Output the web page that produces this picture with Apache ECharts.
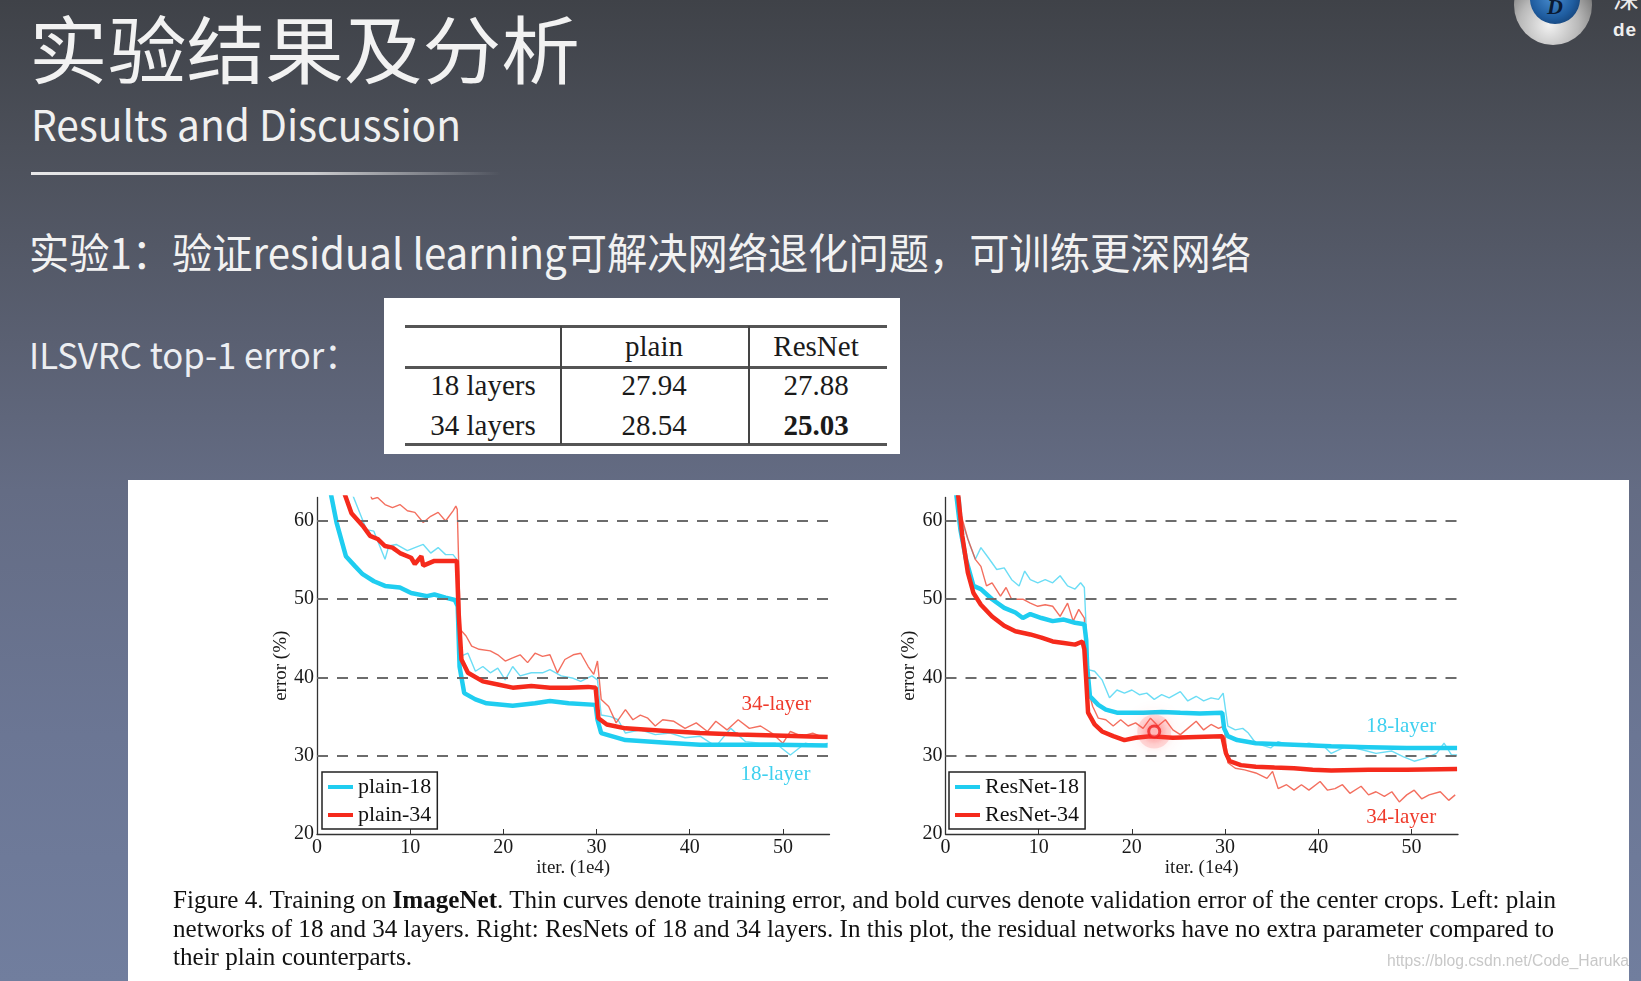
<!DOCTYPE html>
<html><head><meta charset="utf-8">
<script src="https://cdn.jsdelivr.net/npm/echarts/dist/echarts.min.js"></script>
<style>
html,body{margin:0;padding:0;width:1641px;height:981px;overflow:hidden;}
body{position:relative;background:linear-gradient(180deg,#3f4248 0%,#4c505a 15%,#5a6072 35%,#646c84 50%,#6b7694 75%,#717e9e 100%);font-family:"Noto Sans CJK SC","Noto Sans",sans-serif;}
.t{position:absolute;white-space:nowrap;line-height:1;transform-origin:0 0;display:inline-block;}
#title{left:29px;top:9px;font-size:74px;color:#f2f2f2;}
#sub{left:31px;top:102px;font-size:42px;color:#f0f0f0;}
#rule{position:absolute;left:31px;top:172px;width:470px;height:3px;background:linear-gradient(90deg,rgba(240,240,240,0.95) 0%,rgba(235,235,235,0.8) 60%,rgba(220,220,220,0) 100%);}
#exp{left:29px;top:230px;font-size:42px;color:#f2f2f2;}
#ils{left:29px;top:335px;font-size:36px;color:#eceef2;}
#table{position:absolute;left:384px;top:298px;width:516px;height:156px;background:#fff;}
.rl{position:absolute;left:21px;width:482px;height:2.5px;background:#555;}
.vl{position:absolute;top:28px;height:118px;width:1.5px;background:#444;}
.c{position:absolute;width:140px;text-align:center;font-family:"Liberation Serif",serif;font-size:29px;color:#1a1a1a;line-height:30px;}
#panel{position:absolute;left:128px;top:480px;width:1501px;height:501px;background:#fff;}
#chart{position:absolute;left:0;top:0;width:1641px;height:981px;z-index:2;}
.cap{position:absolute;left:173px;white-space:nowrap;font-family:"Liberation Serif",serif;font-size:25px;color:#111;line-height:28.5px;transform-origin:0 0;display:inline-block;z-index:3;}
#wm{position:absolute;left:1387px;top:952px;font-family:"Liberation Sans",Arial,sans-serif;font-size:16px;color:#c8c8c8;white-space:nowrap;z-index:3;transform-origin:0 0;display:inline-block;}
#logo1{position:absolute;left:1514px;top:-35px;width:78px;height:80px;border-radius:50%;background:radial-gradient(circle at 45% 75%,#f2f2f2 0%,#b9b9b9 40%,#6d6d6d 75%,#4a4a4a 100%);}
#logo2{position:absolute;left:1530px;top:-26px;width:50px;height:50px;border-radius:50%;background:radial-gradient(circle at 45% 45%,#4a8ed0 0%,#1f5da0 55%,#0d2d58 100%);}
#logo3{position:absolute;left:1547px;top:-6px;font:bold italic 22px "Liberation Serif",serif;color:#0a1a33;}
#logo4{position:absolute;left:1613px;top:19px;font:bold 19px "Liberation Sans",sans-serif;color:#eee;letter-spacing:1px;}
#logo5{position:absolute;left:1613px;top:-22px;font-size:26px;color:#eee;}
</style></head>
<body>
<div class="t" id="title">实验结果及分析</div>
<div class="t" id="sub">Results and Discussion</div>
<div id="rule"></div>
<div class="t" id="exp">实验1：验证residual learning可解决网络退化问题，可训练更深网络</div>
<div class="t" id="ils">ILSVRC top-1 error：</div>
<div id="table"></div>
<div id="panel"></div>
<div id="logo1"></div><div id="logo2"></div><div id="logo3">D</div><div id="logo4">de</div><div id="logo5">深</div>
<div id="chart"></div>
<div class="cap" id="cap1" style="top:886px">Figure 4. Training on <b>ImageNet</b>. Thin curves denote training error, and bold curves denote validation error of the center crops. Left: plain</div>
<div class="cap" id="cap2" style="top:914.5px">networks of 18 and 34 layers. Right: ResNets of 18 and 34 layers. In this plot, the residual networks have no extra parameter compared to</div>
<div class="cap" id="cap3" style="top:943px">their plain counterparts.</div>
<div id="wm">https://blog.csdn.net/Code_Haruka</div>
<script>
// ---------- table data ----------
const tableCols = ['plain', 'ResNet'];
const tableRows = ['18 layers', '34 layers'];
const tableVals = [['27.94', '27.88'], ['28.54', '25.03']];
const tableBold = [[false, false], [false, true]];

// ---------- chart data ----------
const xTicks = [0, 10, 20, 30, 40, 50];
const yTicks = [20, 30, 40, 50, 60];
const gridVals = [30, 40, 50, 60];

const plain18Train = [[3.6,64],[5.3,58.9],[6.1,58.7],[7.3,55.1],[7.7,56.8],[8.5,57],[9.7,56.2],[10.5,56.6],[11.4,57],[12.2,55.9],[13,56.6],[13.8,55.7],[14.6,55.7],[15,55.1],[15.4,42.7],[16.2,43.1],[17,40.8],[17.8,41.4],[18.6,40.6],[19.4,41.2],[20.2,39.7],[21,41.4],[21.8,40.2],[23,40.6],[24.2,40.6],[25,41],[26.2,40.2],[27.5,39.9],[28.3,39.5],[29.5,40.2],[30.1,39.7],[30.5,35.2],[31.5,35],[32.3,34.6],[33.1,32.9],[34.7,33.3],[36.3,32.7],[37.9,32.9],[39.5,32.3],[41.1,32.5],[42.8,31.2],[44.4,33.5],[46,31.8],[47.6,31.6],[49.2,31.6],[50.8,30.1],[52.4,31.6],[54,31.2],[54.8,31.6]];
const plain34Train = [[5.5,64],[5.9,62.8],[6.5,63],[7.3,62.1],[8.1,61.7],[8.9,62.1],[9.7,61.3],[10.5,61.1],[11.4,59.8],[12.2,60.6],[13,61.1],[13.8,60],[14.6,61.3],[14.9,61.9],[15.05,61.5],[15.4,46.1],[16,45.3],[16.6,44],[17.4,43.6],[18.6,43.4],[19.4,42.9],[20.2,42.1],[21,42.5],[21.8,42.9],[22.6,41.9],[23.4,43.1],[24.2,42.7],[25,42.9],[25.8,40.6],[26.6,42.3],[27.5,42.9],[28.3,43.1],[29.1,41.4],[29.7,40.4],[30.1,42.1],[30.5,37.2],[31.3,36.3],[32.1,34.2],[33.1,35.9],[33.9,34.6],[34.7,35.2],[35.5,34.8],[36.3,33.8],[37.1,34.6],[38.3,34.4],[39.5,33.5],[40.7,34.2],[41.9,33.1],[42.8,34.4],[44,33.3],[45.2,34.6],[46.4,33.5],[47.6,33.8],[48.8,32.9],[50,31.6],[50.8,33.1],[52,32.5],[53.2,32.9],[54.4,32.3]];
const plain18Val = [[1.4,64],[2.1,59.8],[3.1,55.5],[4.1,54.2],[4.9,53.2],[6.1,52.3],[7.3,51.7],[8.9,51.5],[10.1,50.8],[11.8,50.4],[12.6,50.6],[13.8,50.2],[14.8,49.9],[15.1,49.1],[15.3,41.4],[15.8,38],[17,37.2],[18.2,36.7],[21,36.4],[23.4,36.7],[25,37],[27,36.7],[29.9,36.5],[30.1,34.6],[30.5,32.9],[33.1,32],[37.1,31.7],[41.1,31.4],[45.2,31.4],[49.2,31.4],[54.8,31.3]];
const plain34Val = [[2.8,64],[3.7,61],[4.9,59.4],[5.7,58.1],[6.5,57.7],[7.3,56.8],[8.1,56.6],[8.9,55.9],[10.1,55.3],[10.5,54.5],[11.2,55.5],[11.4,54.3],[12.6,54.9],[13.8,54.9],[15,54.9],[15.2,48.3],[15.5,42.3],[16.2,40.6],[17.8,39.5],[19.4,39.1],[21,38.7],[23,38.9],[25,38.7],[27,38.7],[29.1,38.8],[29.9,38.7],[30.2,34.8],[31.1,34],[33.1,33.5],[37.1,33.2],[41.1,32.9],[45.2,32.7],[49.2,32.6],[54.8,32.4]];

const res18Train = [[1.5,64],[1.8,59.8],[2.6,57],[3.2,55.1],[3.8,56.6],[4.6,55.3],[5.5,53.8],[6.3,54],[7.1,52.5],[7.9,51.7],[8.5,53.6],[9.1,52.5],[9.9,52.1],[10.7,52.5],[11.5,52.1],[12.3,53],[13.1,51.7],[13.9,51.3],[14.5,52.1],[14.9,51.5],[15.3,41],[16,40.8],[16.8,39.7],[17.6,37.4],[18.4,38.4],[19.2,38],[20,38.4],[20.8,37.8],[21.6,38],[22.4,37.2],[23.2,37.8],[24,37.4],[25.2,38.2],[26,37],[26.9,37.6],[27.7,37],[28.5,37.4],[29.3,37.2],[29.8,38],[30.3,33.8],[31.1,33.3],[31.9,33.5],[32.5,32.9],[33.3,31.6],[34.9,31],[35.7,31.8],[37.4,31.2],[39,31.6],[40.6,31.2],[41.4,30.3],[43,31.2],[44.6,30.8],[46.2,30.3],[47.9,30.6],[49.1,29.9],[50.3,29.3],[51.5,29.7],[52.7,30.3],[53.5,31.6],[54.3,30.1],[54.9,30.1]];
const res34Train = [[1.4,64],[1.6,61.1],[2.4,57.7],[3.2,55.1],[3.8,54.2],[4.4,51.7],[5,52.1],[5.9,50.4],[6.5,51.5],[7.1,50],[8.3,50],[9.1,49.5],[9.9,49.1],[10.7,49.3],[11.5,49.1],[12.3,47.8],[13.1,49.5],[13.7,47.2],[14.3,48.7],[14.9,47.6],[15.2,38.9],[15.8,36.3],[16.4,34.8],[17.2,34.6],[18,33.8],[18.8,34.6],[19.6,33.8],[20.4,34.2],[21.2,33.5],[22,34.8],[22.8,33.8],[23.6,34.6],[24.4,33.3],[25.2,32.7],[26,33.5],[26.9,34.4],[27.7,33.3],[28.5,34],[29.3,33.5],[29.9,33.8],[30.3,29.1],[31.1,28.4],[32.1,28.2],[33.3,27.8],[34.5,27.1],[35.1,28],[35.7,25.8],[36.6,26.3],[37.4,25.6],[38.2,26.3],[39,25.6],[40.2,26.7],[41,25.6],[41.8,25.8],[42.6,26.3],[43.4,25.2],[44.6,26.1],[45.4,25],[46.2,25.4],[47.1,24.8],[47.9,25.4],[48.7,24.1],[49.5,25],[50.3,25.6],[51.1,24.5],[51.9,25],[53.1,25.4],[54,24.3],[54.7,25]];
const res18Val = [[1.1,64],[1.6,58.9],[2.2,55.1],[3,51.7],[3.8,51.3],[5,50],[6.3,48.9],[7.5,48.3],[8.3,47.6],[9.1,48.1],[10.3,47.6],[11.5,47.2],[12.7,47.4],[13.9,47],[14.9,46.8],[15.1,44.8],[15.2,41.4],[15.5,37.6],[16.4,36.5],[17.2,35.9],[18.4,35.5],[21.2,35.5],[23.2,35.6],[25.2,35.5],[27.3,35.4],[29.7,35.5],[29.9,33.5],[30.3,32.5],[31.3,32],[33.3,31.6],[37.4,31.4],[41.4,31.2],[45.4,31.1],[49.5,31],[54.9,31]];
const res34Val = [[1.3,64],[1.8,58.1],[2.4,53.4],[3,50.8],[3.8,49.3],[5,47.8],[6.3,46.6],[7.5,45.9],[9.1,45.5],[10.3,45.1],[11.5,44.6],[12.7,44.4],[13.9,44.2],[14.7,44.6],[14.9,43.6],[15.1,39.7],[15.3,35.5],[16,34],[16.8,33.1],[18,32.5],[19.2,32],[20.4,32.3],[22,32.5],[24.4,32.3],[26.9,32.4],[29.7,32.5],[30.1,30.3],[30.5,29.3],[31.7,28.8],[33.3,28.6],[35.3,28.5],[37.4,28.4],[39.4,28.2],[41.4,28.1],[45.4,28.2],[49.5,28.2],[54.9,28.3]];
const cursorPoint = [[22.4, 33.1]];

// ---------- build table ----------
(function(){
  const t = document.getElementById('table');
  const add = (cls, css, html) => { const d = document.createElement('div'); d.className = cls; d.style.cssText = css; if (html !== undefined) d.innerHTML = html; t.appendChild(d); };
  add('rl', 'top:27px'); add('rl', 'top:68px'); add('rl', 'top:145px');
  add('vl', 'left:176px'); add('vl', 'left:364px');
  const colCenters = [270, 432];
  const rowCenters = [87, 127];
  tableCols.forEach((c, j) => add('c', `left:${colCenters[j]-70}px;top:33px`, c));
  tableRows.forEach((r, i) => {
    add('c', `left:${99-70}px;top:${rowCenters[i]-15}px`, r);
    tableVals[i].forEach((v, j) => add('c', `left:${colCenters[j]-70}px;top:${rowCenters[i]-15}px`, tableBold[i][j] ? '<b>' + v + '</b>' : v));
  });
})();

// ---------- fit slide text widths ----------
function fit(id, w) { const el = document.getElementById(id); const r = el.getBoundingClientRect().width; el.style.transform = 'scaleX(' + (w / r) + ')'; return w / r; }
fit('title', 551); fit('sub', 430); fit('exp', 1222); fit('ils', 330);
const s1 = fit('cap1', 1383); fit('cap2', 1381);
document.getElementById('cap3').style.transform = 'scaleX(' + s1 + ')';
fit('wm', 242);

// ---------- chart ----------
const CYAN = '#1fcdf0', RED = '#f52a1c', CYAN_T = 'rgba(70,212,242,0.8)', RED_T = 'rgba(240,75,55,0.8)';
const serif = 'Liberation Serif';
function axisPair(idx) {
  const x = {
    type: 'value', gridIndex: idx, min: 0, max: 55, interval: 10,
    name: 'iter. (1e4)', nameLocation: 'middle', nameGap: 22,
    nameTextStyle: { fontFamily: serif, fontSize: 19, color: '#1a1a1a' },
    axisLine: { lineStyle: { color: '#333', width: 1.3 } },
    axisTick: { inside: true, length: 5, lineStyle: { color: '#333' }, customValues: xTicks },
    axisLabel: { fontFamily: serif, fontSize: 20, color: '#1a1a1a', margin: 4, customValues: xTicks },
    splitLine: { show: false }
  };
  const y = {
    type: 'value', gridIndex: idx, min: 20, max: 63, interval: 10,
    name: 'error (%)', nameLocation: 'middle', nameRotate: 90, nameGap: 24,
    nameTextStyle: { fontFamily: serif, fontSize: 19, color: '#1a1a1a' },
    axisLine: { show: true, lineStyle: { color: '#333', width: 1.3 } },
    axisTick: { show: true, inside: true, length: 5, lineStyle: { color: '#333' }, customValues: yTicks },
    axisLabel: { fontFamily: serif, fontSize: 20, color: '#1a1a1a', margin: 3, customValues: yTicks },
    splitLine: { show: false }
  };
  return [x, y];
}
const [x0, y0] = axisPair(0), [x1, y1] = axisPair(1);

function line(name, data, idx, color, width, z) {
  return { name, type: 'line', data, xAxisIndex: idx, yAxisIndex: idx, showSymbol: false, symbol: 'none',
    lineStyle: { color, width }, itemStyle: { color }, z, animation: false, silent: true };
}
function dashes(idx) {
  return { type: 'line', data: [], xAxisIndex: idx, yAxisIndex: idx, z: 1, silent: true,
    markLine: { silent: true, symbol: 'none', label: { show: false }, animation: false,
      lineStyle: { color: '#6c6c6c', width: 2, type: [11, 9] },
      data: gridVals.map(v => ({ yAxis: v })) } };
}
function note(text, at, color) {
  return { coord: at, symbolSize: 0, label: { show: true, position: 'inside', formatter: text, color, fontFamily: serif, fontSize: 21 } };
}
const legendBase = {
  orient: 'vertical', icon: 'rect', itemWidth: 25, itemHeight: 4, itemGap: 6,
  padding: [4, 6, 3, 6], borderColor: '#222', borderWidth: 1.5, backgroundColor: '#fff',
  textStyle: { fontFamily: serif, fontSize: 22, color: '#111' }, selectedMode: false
};

const chart = echarts.init(document.getElementById('chart'), null, { renderer: 'canvas' });
const s_p18 = line('plain-18', plain18Val, 0, CYAN, 4.5, 4);
const s_p34 = line('plain-34', plain34Val, 0, RED, 4.5, 5);
s_p34.markPoint = { symbol: 'circle', silent: true, animation: false, data: [note('34-layer', [49.3, 36.5], '#ef3b2c'), note('18-layer', [49.2, 27.6], '#3fd0ef')] };
const s_r18 = line('ResNet-18', res18Val, 1, CYAN, 4.5, 4);
const s_r34 = line('ResNet-34', res34Val, 1, RED, 4.5, 5);
s_r34.markPoint = { symbol: 'circle', silent: true, animation: false, data: [note('18-layer', [48.9, 33.8], '#3fd0ef'), note('34-layer', [48.9, 22.1], '#ef3b2c')] };

chart.setOption({
  animation: false,
  grid: [
    { left: 317, top: 497.5, width: 512.5, height: 336.5 },
    { left: 945.5, top: 497.5, width: 512.5, height: 336.5 }
  ],
  xAxis: [x0, x1],
  yAxis: [y0, y1],
  legend: [
    Object.assign({}, legendBase, { left: 322, top: 772, data: ['plain-18', 'plain-34'] }),
    Object.assign({}, legendBase, { left: 949, top: 772, data: ['ResNet-18', 'ResNet-34'] })
  ],
  series: [
    dashes(0), dashes(1),
    line('plain-18 train', plain18Train, 0, CYAN_T, 1.4, 2),
    line('plain-34 train', plain34Train, 0, RED_T, 1.4, 3),
    s_p18, s_p34,
    line('ResNet-18 train', res18Train, 1, CYAN_T, 1.4, 2),
    line('ResNet-34 train', res34Train, 1, RED_T, 1.4, 3),
    s_r18, s_r34,
    { type: 'scatter', data: cursorPoint, xAxisIndex: 1, yAxisIndex: 1, z: 9, silent: true, symbolSize: 34,
      itemStyle: { color: 'rgba(255,90,90,0.22)', shadowBlur: 18, shadowColor: 'rgba(255,60,60,0.6)' } },
    { type: 'scatter', data: cursorPoint, xAxisIndex: 1, yAxisIndex: 1, z: 10, silent: true, symbolSize: 11,
      itemStyle: { color: 'rgba(255,235,235,0.9)', borderColor: '#f01e1e', borderWidth: 3, shadowBlur: 12, shadowColor: 'rgba(255,40,40,0.85)' } }
  ]
});
</script>
</body></html>
